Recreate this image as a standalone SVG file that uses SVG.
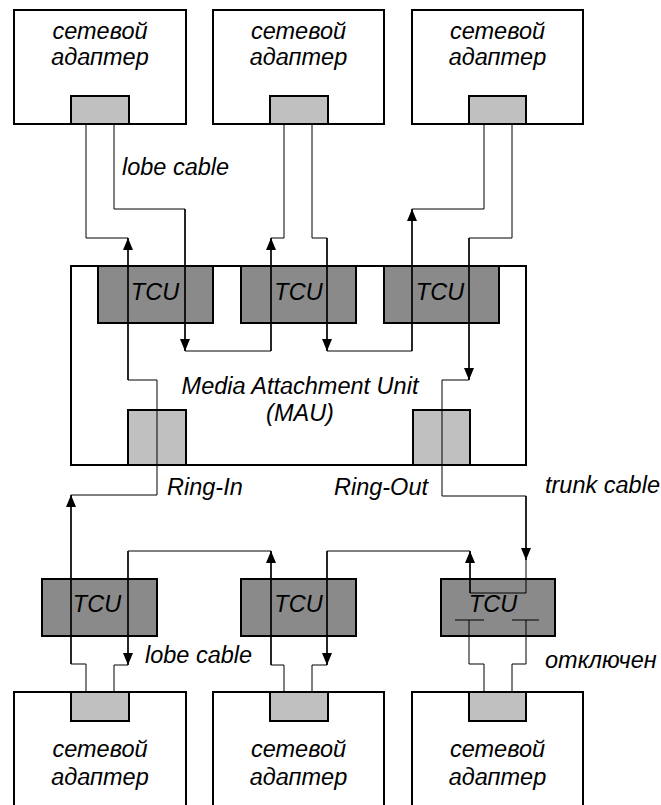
<svg xmlns="http://www.w3.org/2000/svg" width="661" height="805" viewBox="0 0 661 805">
<style>
.box{fill:#fff;stroke:#000;stroke-width:2}
.tcu{fill:#8a8a8a;stroke:#000;stroke-width:2}
.port{fill:#c0c0c0;stroke:#000;stroke-width:2}
.t{fill:none;stroke:#000;stroke-width:1}
.a{fill:none;stroke:#000;stroke-width:1.7;marker-end:url(#ah)}
text{font-family:"Liberation Sans",Arial,sans-serif;font-style:italic;font-size:23.5px;fill:#000}
.c{text-anchor:middle}
</style>
<defs>
<marker id="ah" markerUnits="userSpaceOnUse" viewBox="0 0 12 10" refX="12" refY="5" markerWidth="12" markerHeight="10" orient="auto">
<path d="M0,0 L12,5 L0,10 z" fill="#000"/>
</marker>
</defs>
<rect width="661" height="805" fill="#fff"/>
<g id="adapter-top-1"><rect class="box" x="14" y="10" width="172" height="114"/><rect class="port" x="71" y="96" width="58" height="28"/><text class="c" x="100" y="39">сетевой</text><text class="c" x="100" y="65">адаптер</text></g>
<g id="adapter-top-2"><rect class="box" x="213" y="10" width="171" height="114"/><rect class="port" x="270" y="96" width="58" height="28"/><text class="c" x="298.5" y="39">сетевой</text><text class="c" x="298.5" y="65">адаптер</text></g>
<g id="adapter-top-3"><rect class="box" x="412" y="10" width="171" height="114"/><rect class="port" x="469" y="96" width="57" height="28"/><text class="c" x="497.5" y="39">сетевой</text><text class="c" x="497.5" y="65">адаптер</text></g>
<g id="mau"><rect class="box" x="71" y="266" width="455" height="199"/><text class="c" x="300" y="394">Media Attachment Unit</text><text class="c" x="300" y="421">(MAU)</text></g>
<g id="tcu-mau-1"><rect class="tcu" x="98" y="266" width="115" height="57"/><text class="c" x="155" y="300">TCU</text></g>
<g id="tcu-mau-2"><rect class="tcu" x="241" y="266" width="115" height="57"/><text class="c" x="298.5" y="300">TCU</text></g>
<g id="tcu-mau-3"><rect class="tcu" x="384" y="266" width="115" height="57"/><text class="c" x="440" y="300">TCU</text></g>
<g id="ring-in-port"><rect class="port" x="128" y="410" width="58" height="55"/></g>
<g id="ring-out-port"><rect class="port" x="413" y="410" width="57" height="55"/></g>
<g id="tcu-bot-1"><rect class="tcu" x="42" y="579" width="115" height="57"/><text class="c" x="97" y="612">TCU</text></g>
<g id="tcu-bot-2"><rect class="tcu" x="241" y="579" width="115" height="57"/><text class="c" x="298.5" y="612">TCU</text></g>
<g id="tcu-bot-3"><rect class="tcu" x="441" y="579" width="114" height="57"/><text class="c" x="493" y="612">TCU</text></g>
<g id="adapter-bot-1"><rect class="box" x="14" y="692" width="172" height="120"/><rect class="port" x="71" y="692" width="58" height="29"/><text class="c" x="100" y="757">сетевой</text><text class="c" x="100" y="785">адаптер</text></g>
<g id="adapter-bot-2"><rect class="box" x="213" y="692" width="171" height="120"/><rect class="port" x="270" y="692" width="58" height="29"/><text class="c" x="298.5" y="757">сетевой</text><text class="c" x="298.5" y="785">адаптер</text></g>
<g id="adapter-bot-3"><rect class="box" x="412" y="692" width="171" height="120"/><rect class="port" x="469" y="692" width="57" height="29"/><text class="c" x="497.5" y="757">сетевой</text><text class="c" x="497.5" y="785">адаптер</text></g>
<g id="connectors">
<polyline class="t" points="86,124 86,238 128,238"/>
<polyline class="a" points="128,380 128,238"/>
<polyline class="t" points="71,495 157,495 157,380 128,380"/>
<polyline class="a" points="71,664 71,495"/>
<polyline class="t" points="86,692 86,664 71,664"/>
<polyline class="t" points="114,124 114,209 185,209"/>
<polyline class="a" points="185,209 185,351"/>
<polyline class="t" points="185,351 271,351"/>
<polyline class="a" points="271,351 271,238"/>
<polyline class="t" points="271,238 284,238 284,124"/>
<polyline class="t" points="312,124 312,238 327,238"/>
<polyline class="a" points="327,238 327,351"/>
<polyline class="t" points="327,351 412,351"/>
<polyline class="a" points="412,351 412,209"/>
<polyline class="t" points="412,209 484,209 484,124"/>
<polyline class="t" points="512,124 512,238 469,238"/>
<polyline class="a" points="469,238 469,380"/>
<polyline class="t" points="469,380 442,380 442,496 526,496"/>
<polyline class="a" points="526,496 526,560"/>
<polyline class="t" points="526,560 526,593 470,593"/>
<polyline class="a" points="470,593 470,551"/>
<polyline class="t" points="470,551 327,551"/>
<polyline class="a" points="327,551 327,665"/>
<polyline class="t" points="327,665 312,665 312,692"/>
<polyline class="t" points="284,692 284,665 271,665"/>
<polyline class="a" points="271,665 271,551"/>
<polyline class="t" points="271,551 128,551"/>
<polyline class="a" points="128,551 128,665"/>
<polyline class="t" points="128,665 114,665 114,692"/>
<line class="t" x1="455" y1="620" x2="484" y2="620"/>
<line class="t" x1="512" y1="620" x2="539" y2="620"/>
<polyline class="t" points="469,620 469,664 484,664 484,692"/>
<polyline class="t" points="526,620 526,664 512,664 512,692"/>
</g>
<g id="labels">
<text x="122" y="175">lobe cable</text>
<text x="167" y="495">Ring-In</text>
<text x="428" y="495" text-anchor="end">Ring-Out</text>
<text x="545" y="493">trunk cable</text>
<text x="145" y="663">lobe cable</text>
<text x="545" y="668">отключен</text>
</g>
</svg>
